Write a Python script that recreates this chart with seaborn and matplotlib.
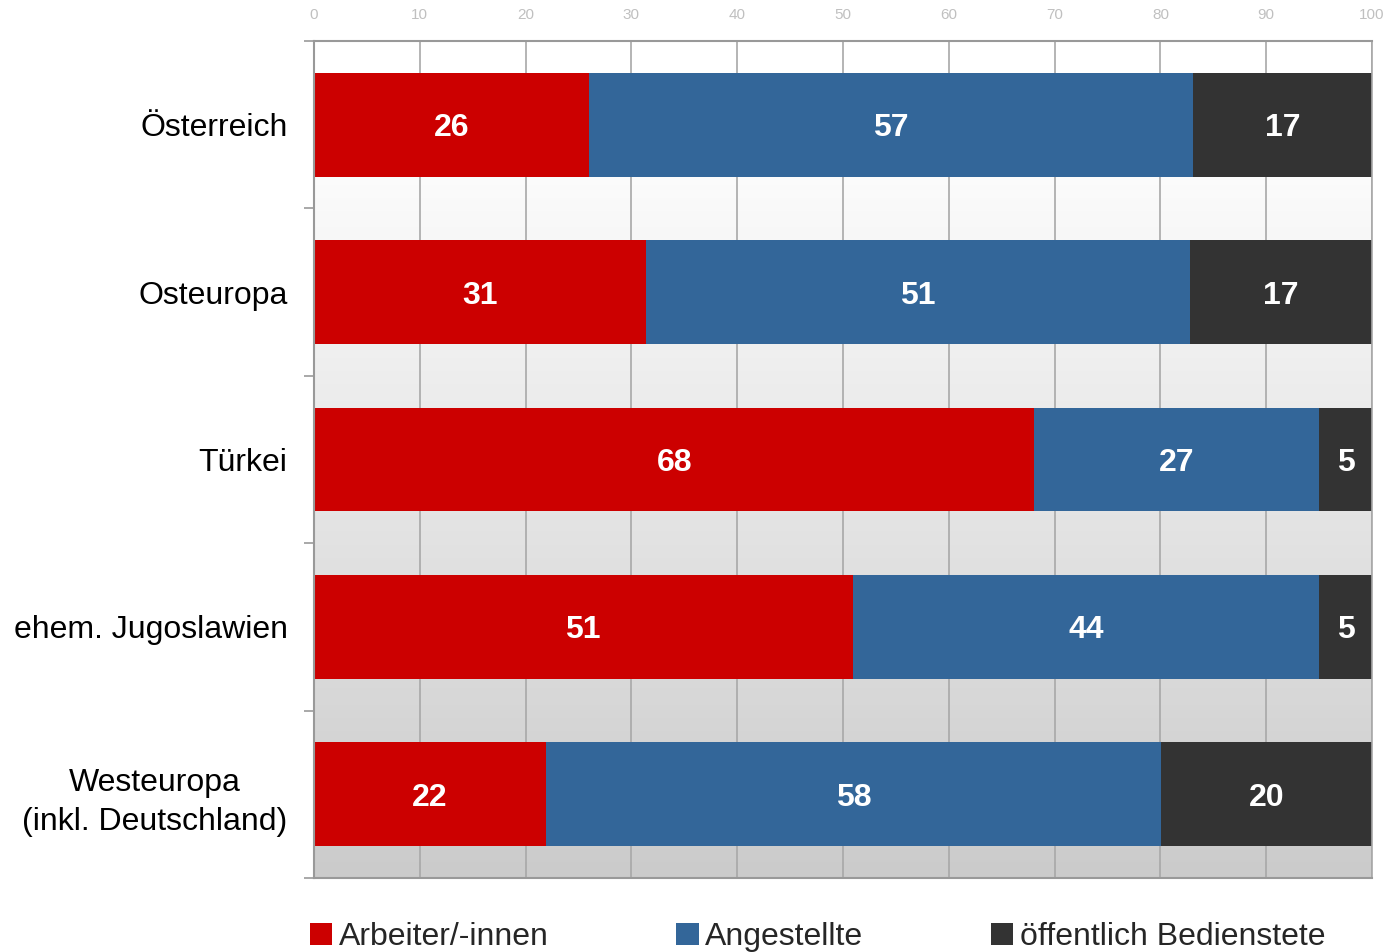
import numpy as np
import pandas as pd
import matplotlib
matplotlib.use("Agg")
import matplotlib.pyplot as plt
import seaborn as sns
from matplotlib.patches import Patch
from matplotlib.colors import LinearSegmentedColormap

# data (segment lengths, labels as printed)
regions = ["Österreich", "Osteuropa", "Türkei", "ehem. Jugoslawien",
           "Westeuropa\n(inkl. Deutschland)"]
arbeiter = [26, 31.4, 68.1, 50.9, 21.9]
angestellte = [57.1, 51.4, 26.9, 44.1, 58.2]
oeffentlich = [16.9, 17.2, 5, 5, 19.9]
series_names = ["Arbeiter/-innen", "Angestellte", "öffentlich Bedienstete"]
colors = ["#cc0000", "#336699", "#333333"]

df = pd.DataFrame({"region": regions, "a": arbeiter, "b": angestellte, "c": oeffentlich})
df["ab"] = df["a"] + df["b"]
df["abc"] = df["ab"] + df["c"]

sns.set_theme(style="white")
plt.rcParams["font.family"] = ["Liberation Sans", "DejaVu Sans"]

fig = plt.figure(figsize=(13.9, 9.52), dpi=100)
ax = fig.add_axes([314 / 1390, 1 - 878 / 952, (1372 - 314) / 1390, (878 - 41) / 952])

# gradient background
cmap = LinearSegmentedColormap.from_list(
    "bg", [(0, "#ffffff"), (0.1, "#ffffff"), (1, "#cbcbcb")])
ax.imshow(np.linspace(0, 1, 256).reshape(-1, 1), cmap=cmap, aspect="auto",
          extent=[0, 100, -0.5, 4.5], origin="lower", zorder=0)

# stacked bars drawn back to front
for col, c in zip(["abc", "ab", "a"], colors[::-1]):
    sns.barplot(data=df, x=col, y="region", orient="h", color=c, saturation=1,
                width=0.62, linewidth=0, ax=ax, zorder=2)

# value labels
for i, row in df.iterrows():
    lefts = [0, row["a"], row["ab"]]
    for left, v in zip(lefts, [row["a"], row["b"], row["c"]]):
        ax.text(left + v / 2, i, f"{round(v):d}", ha="center",
                va="center_baseline", color="white", fontsize=23,
                fontweight="bold", zorder=3)

ax.set_xlim(0, 100)
ax.set_ylim(4.5, -0.5)
ax.set_xlabel("")
ax.set_ylabel("")

ax.xaxis.set_ticks_position("top")
ax.set_xticks(np.arange(0, 101, 10))
ax.tick_params(axis="x", which="major", length=0, pad=14, labelsize=11,
               labelcolor="#c0c0c0")
ax.grid(axis="x", color="#a8a8a8", linewidth=1.2, zorder=1)
ax.grid(axis="y", visible=False)

ax.set_yticks(range(len(regions)))
ax.set_yticklabels(regions, fontsize=23, multialignment="center",
                   linespacing=1.4)
ax.set_yticks(np.arange(-0.5, 5, 1), minor=True)
ax.tick_params(axis="y", which="major", length=0, pad=19, labelcolor="black")
ax.tick_params(axis="y", which="minor", length=7.5, width=1.2, color="#999999",
               left=True)

for s in ax.spines.values():
    s.set_visible(True)
    s.set_color("#999999")
    s.set_linewidth(1.5)
ax.spines["right"].set_linewidth(1.2)
ax.spines["right"].set_color("#a8a8a8")

handles = [Patch(facecolor=c, edgecolor="none") for c in colors]
fig.legend(handles, series_names, loc="lower left", ncol=3, frameon=False,
           bbox_to_anchor=(310 / 1390, 0.0), fontsize=23,
           handlelength=0.7, handleheight=0.7, handletextpad=0.2,
           columnspacing=4.0, borderaxespad=0, borderpad=0)

fig.savefig("out.png", dpi=100)
